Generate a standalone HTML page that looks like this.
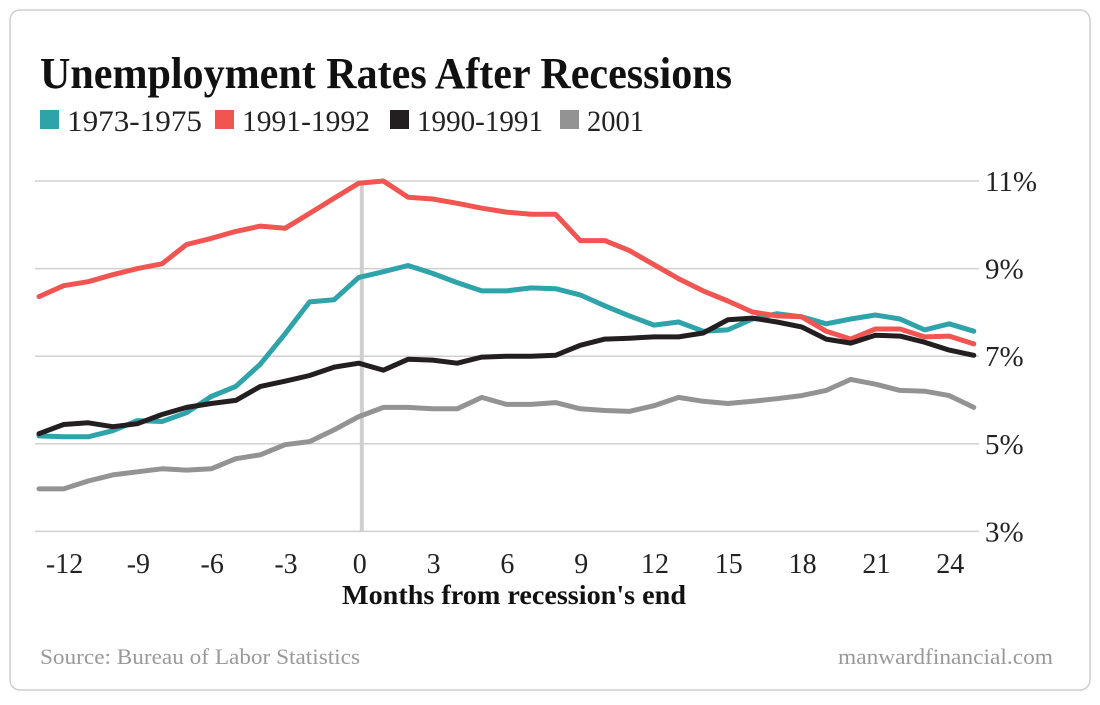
<!DOCTYPE html>
<html><head><meta charset="utf-8"><style>
body{margin:0;background:#fff;width:1100px;height:700px;overflow:hidden;font-family:"Liberation Serif",serif}
</style></head><body>
<svg width="1100" height="700">
<rect x="10" y="10" width="1080" height="680" rx="10" fill="#fff" stroke="#cfcfcf" stroke-width="1.5"/>
<text x="40" y="88" font-size="44" font-weight="bold" fill="#111" textLength="692" lengthAdjust="spacingAndGlyphs">Unemployment Rates After Recessions</text>
<g id="legend"></g>
<g id="grid"></g>
<g id="series"></g>
<text x="342" y="604" font-size="27" font-weight="bold" fill="#111" textLength="344" lengthAdjust="spacingAndGlyphs">Months from recession's end</text>
<text x="40" y="664" font-size="22" fill="#999" textLength="320" lengthAdjust="spacingAndGlyphs">Source: Bureau of Labor Statistics</text>
<text x="838" y="664" font-size="22" fill="#999" textLength="215" lengthAdjust="spacingAndGlyphs">manwardfinancial.com</text>
</svg>
<script>
const months=[-13,-12,-11,-10,-9,-8,-7,-6,-5,-4,-3,-2,-1,0,1,2,3,4,5,6,7,8,9,10,11,12,13,14,15,16,17,18,19,20,21,22,23,24,25];
const s1973=[5.18,5.16,5.16,5.30,5.53,5.51,5.71,6.08,6.31,6.82,7.51,8.24,8.29,8.80,8.93,9.07,8.89,8.68,8.49,8.49,8.56,8.54,8.40,8.15,7.92,7.71,7.78,7.57,7.60,7.85,7.97,7.90,7.74,7.85,7.94,7.85,7.60,7.74,7.57];
const s1991=[8.36,8.61,8.70,8.86,9.00,9.11,9.55,9.69,9.85,9.97,9.92,10.26,10.61,10.95,11.0,10.63,10.59,10.49,10.38,10.29,10.24,10.24,9.64,9.64,9.41,9.09,8.77,8.49,8.26,8.01,7.92,7.90,7.57,7.39,7.62,7.62,7.44,7.46,7.28];
const s1990=[5.23,5.44,5.48,5.39,5.46,5.67,5.83,5.92,5.99,6.31,6.43,6.56,6.75,6.84,6.68,6.93,6.91,6.84,6.98,7.00,7.00,7.02,7.25,7.39,7.41,7.44,7.44,7.53,7.83,7.87,7.78,7.67,7.39,7.30,7.48,7.46,7.32,7.14,7.02];
const s2001=[3.97,3.97,4.15,4.29,4.36,4.43,4.40,4.43,4.66,4.75,4.98,5.05,5.32,5.62,5.83,5.83,5.80,5.80,6.06,5.90,5.90,5.94,5.80,5.76,5.74,5.87,6.06,5.97,5.92,5.97,6.03,6.10,6.22,6.47,6.36,6.22,6.20,6.10,5.83];
const seriesNames=["1973-1975","1991-1992","1990-1991","2001"];
const seriesColors=["#2ea3a9","#f05552","#231f20","#939393"];
const yTicks=[11,9,7,5,3];
const xTicks=[-12,-9,-6,-3,0,3,6,9,12,15,18,21,24];
const NS="http://www.w3.org/2000/svg";
function x(m){return 39+(m+13)*24.6;}
function y(v){return 181+(11-v)*43.8;}
function el(t,a,p){const e=document.createElementNS(NS,t);for(const k in a)e.setAttribute(k,a[k]);p.appendChild(e);return e;}
const grid=document.getElementById('grid');
yTicks.forEach(v=>{
  const l=el('line',{x1:35,x2:979,y1:y(v),y2:y(v),stroke:'#d0d0d0','stroke-width':1.5},grid);
  
  
  const t=el('text',{x:985,y:y(v)+10,'font-size':29,fill:'#222'},grid);
  t.textContent=v+'%';
  
  
});
xTicks.forEach(m=>{
  const t=el('text',{x:x(m)+1,y:573,'font-size':28,fill:'#222','text-anchor':'middle'},grid);
  t.textContent=m;
  
  
});
const vl=el('line',{x1:x(0)+3,x2:x(0)+3,y1:y(11),y2:y(3),stroke:'#cfcfcf','stroke-width':4},grid);


const sg=document.getElementById('series');
[s1973,s1991,s1990,s2001].forEach((s,i)=>{
  const d=s.map((v,j)=>(j?'L':'M')+x(months[j]).toFixed(1)+','+y(v).toFixed(1)).join('');
  const p=el('path',{d:d,fill:'none',stroke:seriesColors[i],'stroke-width':5,'stroke-linejoin':'round','stroke-linecap':'round'},sg);
  
  
});
const lg=document.getElementById('legend');
const lx=[40,215,390,560];
const lw=[135,128,126,57];
seriesNames.forEach((n,i)=>{
  const r=el('rect',{x:lx[i],y:110,width:19,height:19,fill:seriesColors[i]},lg);
  
  
  const t=el('text',{x:lx[i]+27,y:131,'font-size':30,fill:'#222',textLength:lw[i],lengthAdjust:'spacingAndGlyphs'},lg);
  t.textContent=n;
  
  
});
</script>
</body></html>
